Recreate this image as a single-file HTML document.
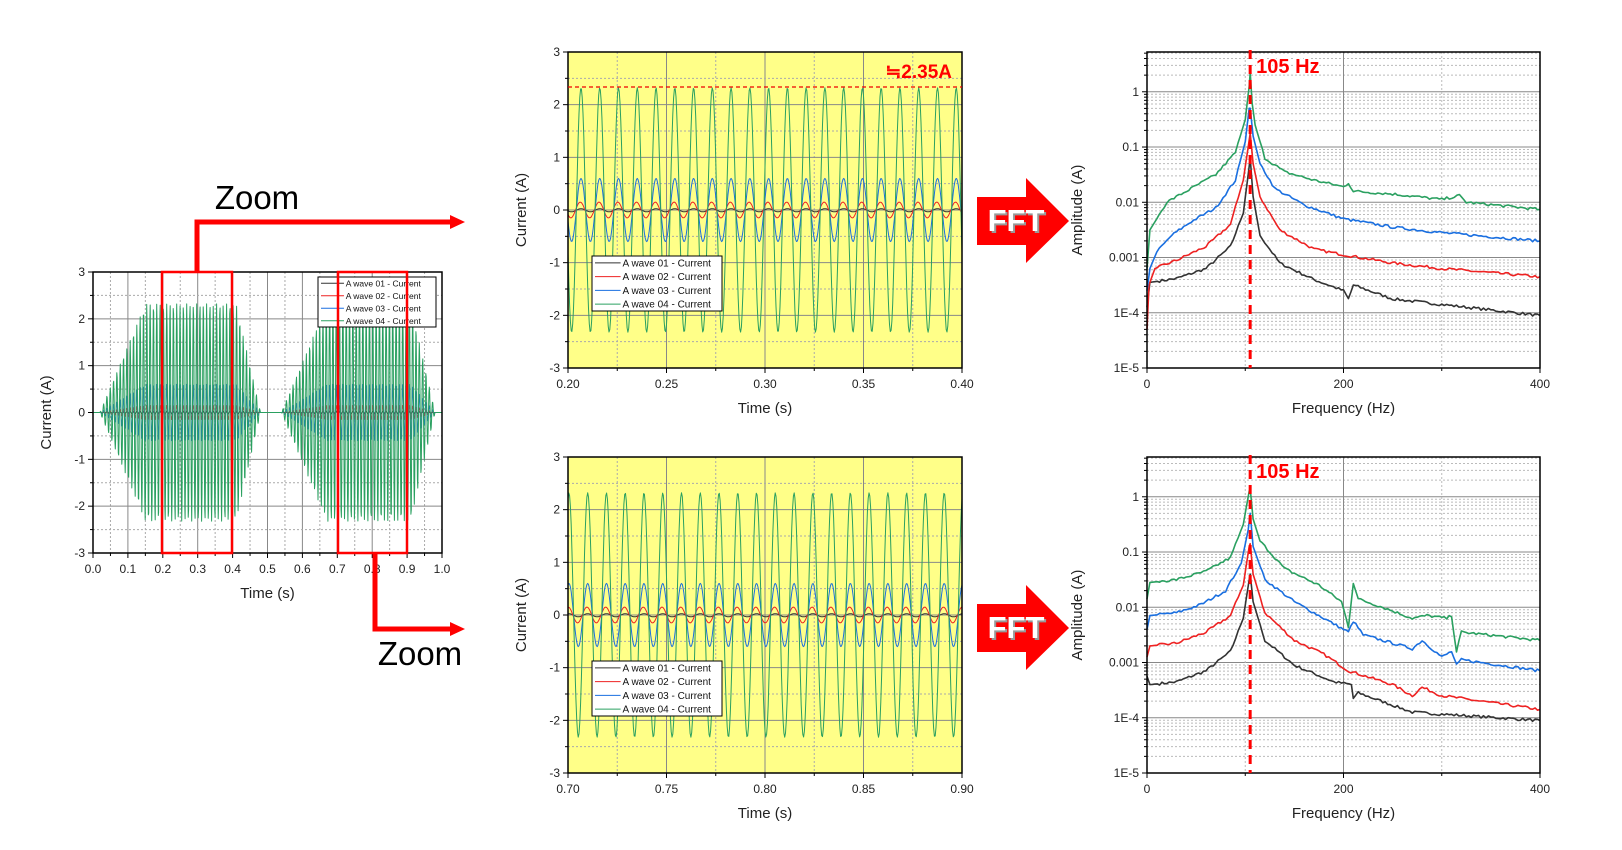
<!DOCTYPE html>
<html><head><meta charset="utf-8"><style>
html,body{margin:0;padding:0;background:#fff;}
svg{display:block;font-family:"Liberation Sans",sans-serif;}
</style></head><body>
<svg id="s" width="1622" height="850" viewBox="0 0 1622 850" xmlns="http://www.w3.org/2000/svg"></svg>
<script>
var S=document.getElementById('s'),out=[];
function A(s){out.push(s);}
function line(x1,y1,x2,y2,st){A('<line x1="'+x1+'" y1="'+y1+'" x2="'+x2+'" y2="'+y2+'" style="'+st+'"/>');}
function txt(x,y,t,st,anchor){A('<text x="'+x+'" y="'+y+'" text-anchor="'+(anchor||'middle')+'" style="'+st+'">'+t+'</text>');}
function poly(pts,col,w){var d='';for(var i=0;i<pts.length;i++){d+=(i?'L':'M')+pts[i][0].toFixed(1)+' '+pts[i][1].toFixed(1);}A('<path d="'+d+'" fill="none" stroke="'+col+'" stroke-width="'+(w||1)+'" stroke-linejoin="round"/>');}
var COL=['#333','#ee2222','#1a6fe0','#2aa060'];
var TICK='font-size:12px;fill:#222;';
var TITLE='font-size:15px;fill:#222;';
function legend(x0,y0,w,h,fs){A('<rect x="'+x0+'" y="'+y0+'" width="'+w+'" height="'+h+'" fill="#fff" stroke="#000" stroke-width="1"/>');
 var rh=h/4;for(var i=0;i<4;i++){var yy=y0+rh*(i+0.5);line(x0+3,yy,x0+w*0.22,yy,'stroke:'+COL[i]+';stroke-width:1');
 txt(x0+w*0.235,yy+fs*0.36,'A wave 0'+(i+1)+' - Current','font-size:'+fs+'px;fill:#111;','start');}}
function timePlot(x0,y0,x1,y1,tmin,tspan,bg,dx,dxlab,fn,sdt,leg){
 var X=function(t){return x0+(t-tmin)/tspan*(x1-x0);},Y=function(v){return y0+(3-v)/6*(y1-y0);};
 A('<rect x="'+x0+'" y="'+y0+'" width="'+(x1-x0)+'" height="'+(y1-y0)+'" fill="'+bg+'"/>');
 var n=Math.round(tspan/dx);
 for(var i=0;i<=2*n;i++){var x=X(tmin+i*dx/2);if(i%2)line(x,y0,x,y1,'stroke:#aaa;stroke-width:1;stroke-dasharray:2 2');else line(x,y0,x,y1,'stroke:#888;stroke-width:1');}
 for(var v=-3;v<=3;v+=0.5){var y=Y(v);if(v%1)line(x0,y,x1,y,'stroke:#aaa;stroke-width:1;stroke-dasharray:2 2');else line(x0,y,x1,y,'stroke:#888;stroke-width:1');}
 for(var c=0;c<4;c++){var pts=[];for(var t=tmin;t<=tmin+tspan+1e-9;t+=sdt){var v=fn(c,t);pts.push([X(t),Y(v)]);}poly(pts,COL[c],1);}
 A('<rect x="'+x0+'" y="'+y0+'" width="'+(x1-x0)+'" height="'+(y1-y0)+'" fill="none" stroke="#000" stroke-width="1.5"/>');
 for(var i=0;i<=2*n;i++){var x=X(tmin+i*dx/2);line(x,y1,x,y1+(i%2?3:5),'stroke:#000;stroke-width:1');}
 for(var v=-3;v<=3;v+=0.5){var y=Y(v);line(x0,y,x0-(v%1?3:5),y,'stroke:#000;stroke-width:1');}
 for(var v=-3;v<=3;v++)txt(x0-8,Y(v)+4,String(v),TICK,'end');
 for(var i=0;i<=n;i++)txt(X(tmin+i*dx),y1+20,dxlab(tmin+i*dx),TICK);
 txt((x0+x1)/2,y1+45,'Time (s)',TITLE);
 var cy=(y0+y1)/2;A('<text x="'+(x0-42)+'" y="'+cy+'" text-anchor="middle" transform="rotate(-90 '+(x0-42)+' '+cy+')" style="'+TITLE+'">Current (A)</text>');
 if(leg)legend(leg[0],leg[1],leg[2],leg[3],leg[4]);
}
var AMP=[0.03,0.15,0.6,2.32];
function zoomFn(t0){return function(c,t){var p=Math.cos(2*Math.PI*105*(t-t0)+(c==1?0.25:0));return AMP[c]*p-(c==0?0.005:0);};}
timePlot(568,52,962,368,0.20,0.2,'#ffff88',0.05,function(t){return t.toFixed(2)},zoomFn(0.2066),0.0004,[592,256,130,55,10]);
timePlot(568,457,962,773,0.70,0.2,'#ffff88',0.05,function(t){return t.toFixed(2)},zoomFn(0.7100),0.0004,[592,661,130,55,10]);
line(568,87,962,87,'stroke:#e00;stroke-width:1.2;stroke-dasharray:4 3');
txt(952,78,'≒2.35A','font-size:19px;font-weight:bold;fill:#f00;','end');
function env(t){var a=0;
 if(t>0.02&&t<0.48){if(t<0.15)a=(t-0.02)/0.13;else if(t<0.41)a=1;else a=(0.48-t)/0.07;}
 else if(t>0.54&&t<0.98){if(t<0.67)a=(t-0.54)/0.13;else if(t<0.91)a=1;else a=(0.98-t)/0.07;}
 return Math.max(0,a);}
timePlot(93,272,442,553,0,1.0,'#ffffff',0.1,function(t){return t.toFixed(1)},function(c,t){return AMP[c]*env(t)*Math.sin(2*Math.PI*105*t+0.4);},0.0011,[318,277,118,50,8.5]);
A('<rect x="162" y="272" width="70" height="281" fill="none" stroke="#f00" stroke-width="2.5"/>');
A('<rect x="338" y="272" width="69" height="281" fill="none" stroke="#f00" stroke-width="2.5"/>');
A('<path d="M197 272 V222 H452" fill="none" stroke="#f00" stroke-width="5"/>');
A('<polygon points="450,215 465,222 450,229" fill="#f00"/>');
A('<path d="M375 553 V629 H452" fill="none" stroke="#f00" stroke-width="5"/>');
A('<polygon points="450,622 465,629 450,636" fill="#f00"/>');
txt(257,209,'Zoom','font-size:33px;fill:#000;');
txt(420,665,'Zoom','font-size:33px;fill:#000;');
function fft(y){A('<polygon points="977,'+(y-24)+' 1026,'+(y-24)+' 1026,'+(y-43)+' 1069,'+y+' 1026,'+(y+42)+' 1026,'+(y+24)+' 977,'+(y+24)+'" fill="#f00"/>');
 txt(1018,y+12,'FFT','font-size:31px;font-weight:bold;fill:#999;','middle');txt(1016,y+10,'FFT','font-size:31px;font-weight:bold;fill:#fff;','middle');}
fft(221);fft(628);
function specPlot(x0,y0,x1,y1,curves){
 var ybot=y1,dec=(y1-y0)/5.72,X=function(f){return x0+f/400*(x1-x0);},Y=function(l){return ybot-(l+5)*dec;};
 A('<rect x="'+x0+'" y="'+y0+'" width="'+(x1-x0)+'" height="'+(y1-y0)+'" fill="#fff"/>');
 for(var d=-5;d<=0;d++){for(var k=2;k<=9;k++){var y=Y(d+Math.log10(k));if(y>y0)line(x0,y,x1,y,'stroke:#bbb;stroke-width:1;stroke-dasharray:2 2');}}
 for(var d=-4;d<=0;d++)line(x0,Y(d),x1,Y(d),'stroke:#888;stroke-width:1');
 [100,300].forEach(function(f){line(X(f),y0,X(f),y1,'stroke:#bbb;stroke-width:1;stroke-dasharray:2 2');});
 line(X(200),y0,X(200),y1,'stroke:#888;stroke-width:1');
 var seed=7;function rnd(){seed=(seed*16807)%2147483647;return seed/2147483647-0.5;}
 for(var c=0;c<4;c++){var k=curves[c],pts=[];
  for(var i=0;i<k.length-1;i++){var a=k[i],b=k[i+1],steps=Math.max(1,Math.round((b[0]-a[0])/2.5));
   for(var s=0;s<steps;s++){var f=a[0]+(b[0]-a[0])*s/steps,l=a[1]+(b[1]-a[1])*s/steps;var j=(f>12&&Math.abs(f-105)>12)?rnd()*0.05:0;pts.push([X(f),Y(l+j)]);}}
  pts.push([X(400),Y(k[k.length-1][1])]);poly(pts,COL[c],1.6);}
 A('<rect x="'+x0+'" y="'+y0+'" width="'+(x1-x0)+'" height="'+(y1-y0)+'" fill="none" stroke="#000" stroke-width="1.5"/>');
 for(var d=-5;d<=0;d++){line(x0,Y(d),x0-5,Y(d),'stroke:#000');for(var k2=2;k2<=9;k2++){var y=Y(d+Math.log10(k2));if(y>y0)line(x0,y,x0-3,y,'stroke:#000');}}
 var labs=['1E-5','1E-4','0.001','0.01','0.1','1'];
 for(var d=-5;d<=0;d++)txt(x0-8,Y(d)+4,labs[d+5],TICK,'end');
 [0,200,400].forEach(function(f){txt(X(f),y1+20,String(f),TICK);line(X(f),y1,X(f),y1+5,'stroke:#000');});
 [100,300].forEach(function(f){line(X(f),y1,X(f),y1+3,'stroke:#000');});
 txt((x0+x1)/2,y1+45,'Frequency (Hz)',TITLE);
 var cy=(y0+y1)/2;A('<text x="'+(x0-65)+'" y="'+cy+'" text-anchor="middle" transform="rotate(-90 '+(x0-65)+' '+cy+')" style="'+TITLE+'">Amplitude (A)</text>');
 var xf=X(105);line(xf,y0-2,xf,y1,'stroke:#f00;stroke-width:3;stroke-dasharray:9 6');
 txt(xf+6,y0+21,'105 Hz','font-size:20px;font-weight:bold;fill:#f00;stroke:#fff;stroke-width:3;paint-order:stroke;','start');
}
specPlot(1147,52,1540,368,[
 [[0,-3.9],[3,-3.45],[30,-3.38],[60,-3.2],[85,-2.8],[98,-2.2],[103,-1.5],[105,-1.2],[108,-1.9],[115,-2.6],[135,-3.1],[170,-3.4],[200,-3.6],[205,-3.75],[210,-3.5],[250,-3.75],[300,-3.85],[400,-4.05]],
 [[0,-4.3],[2,-3.5],[8,-3.2],[30,-3.05],[60,-2.8],[85,-2.4],[98,-1.6],[103,-1.0],[105,-0.75],[108,-1.3],[115,-1.9],[135,-2.5],[170,-2.85],[200,-2.95],[250,-3.1],[300,-3.2],[400,-3.35]],
 [[0,-3.6],[3,-3.2],[10,-2.9],[25,-2.6],[45,-2.35],[70,-2.1],[90,-1.6],[100,-0.9],[104,-0.3],[105,-0.3],[108,-0.8],[115,-1.3],[130,-1.75],[160,-2.05],[200,-2.3],[250,-2.45],[300,-2.55],[400,-2.7]],
 [[0,-3.2],[3,-2.5],[10,-2.3],[20,-2.0],[35,-1.85],[50,-1.7],[70,-1.5],[90,-1.1],[100,-0.5],[104,0.1],[105,0.35],[107,-0.2],[110,-0.6],[120,-1.2],[140,-1.45],[170,-1.6],[200,-1.72],[205,-1.65],[210,-1.8],[250,-1.85],[300,-1.95],[318,-1.88],[325,-2.0],[400,-2.13]]
]);
specPlot(1147,457,1540,773,[
 [[0,-3.25],[3,-3.4],[30,-3.35],[60,-3.15],[85,-2.8],[98,-2.2],[104,-1.5],[105,-1.4],[108,-1.9],[120,-2.6],[150,-3.05],[190,-3.35],[208,-3.4],[210,-3.65],[215,-3.55],[270,-3.9],[400,-4.05]],
 [[0,-2.9],[3,-2.7],[30,-2.65],[60,-2.45],[85,-2.15],[98,-1.6],[104,-0.9],[105,-0.85],[108,-1.4],[120,-2.1],[150,-2.6],[180,-2.85],[205,-3.15],[250,-3.4],[270,-3.6],[280,-3.45],[300,-3.6],[400,-3.85]],
 [[0,-2.4],[3,-2.15],[30,-2.1],[55,-1.95],[80,-1.7],[96,-1.2],[103,-0.6],[105,-0.3],[108,-0.9],[120,-1.5],[150,-1.9],[180,-2.2],[205,-2.45],[210,-2.25],[220,-2.5],[270,-2.75],[280,-2.6],[300,-2.9],[310,-2.8],[315,-3.05],[320,-2.95],[400,-3.15]],
 [[0,-1.85],[3,-1.55],[30,-1.5],[60,-1.35],[85,-1.1],[98,-0.5],[104,0.1],[105,0.15],[108,-0.4],[115,-0.8],[140,-1.3],[175,-1.6],[198,-1.9],[205,-2.35],[210,-1.55],[215,-1.85],[240,-2.0],[270,-2.2],[285,-2.15],[305,-2.2],[310,-2.15],[315,-2.8],[320,-2.45],[400,-2.6]]
]);
S.innerHTML=out.join('');
</script>
</body></html>
